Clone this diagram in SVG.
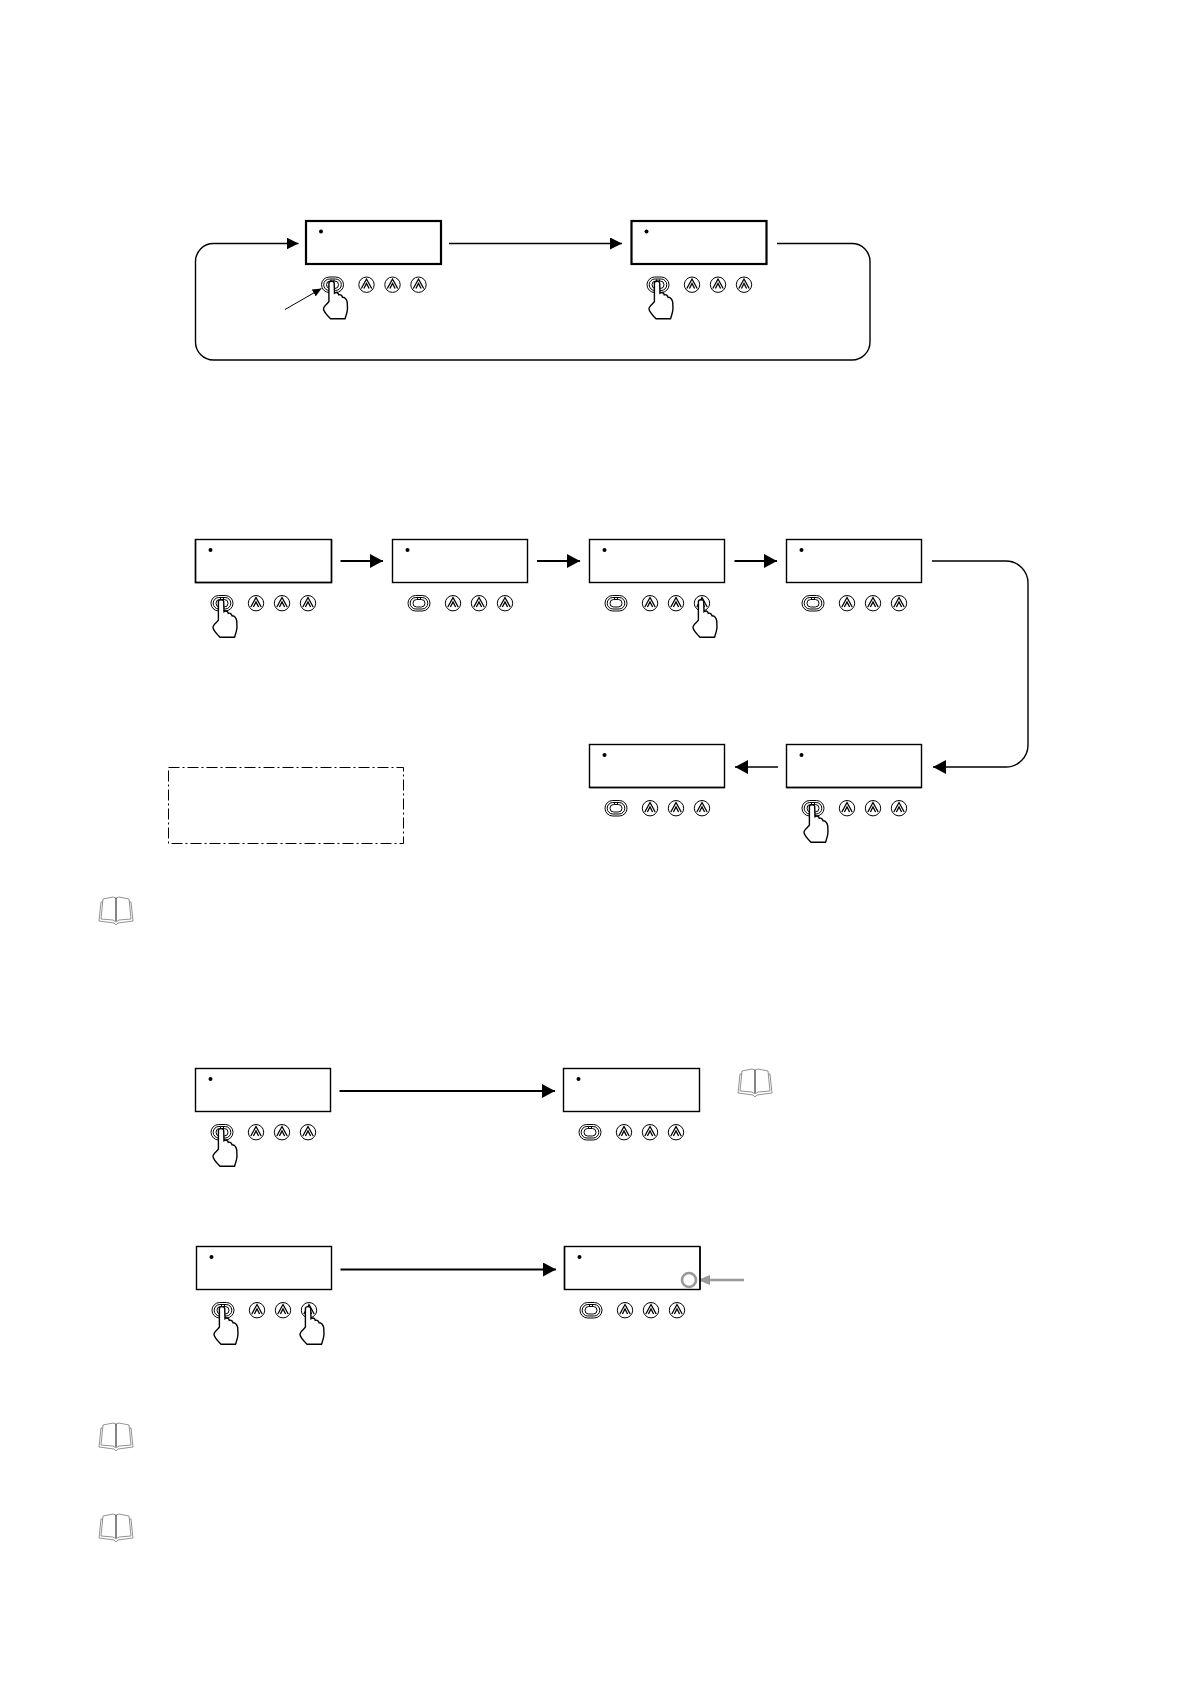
<svg xmlns="http://www.w3.org/2000/svg" width="1190" height="1684" viewBox="0 0 1190 1684">
<style>
.ln{fill:none;stroke:#000;stroke-width:1.3}
.th{fill:none;stroke:#000;stroke-width:1}
.box{fill:#fff;stroke:#000;stroke-width:1.4}
.box2{fill:#fff;stroke:#000;stroke-width:2.2}
.c2{fill:none;stroke:#000;stroke-width:1.4}
.c3{fill:none;stroke:#000;stroke-width:2}
.bk{fill:#fff;stroke:#777;stroke-width:.8}
</style>
<defs>
<marker id="ah" markerUnits="userSpaceOnUse" markerWidth="14" markerHeight="14" refX="13" refY="7" orient="auto"><path d="M0 0L13 7L0 14Z" fill="#000"/></marker>
<marker id="ah2" markerUnits="userSpaceOnUse" markerWidth="12" markerHeight="12" refX="12" refY="6" orient="auto"><path d="M0 0L12 6L0 12Z" fill="#000"/></marker>
<marker id="ahs" markerUnits="userSpaceOnUse" markerWidth="9" markerHeight="8" refX="9" refY="4" orient="auto"><path d="M0 0L9 4L0 8Z" fill="#000"/></marker>
<marker id="ahg" markerUnits="userSpaceOnUse" markerWidth="12" markerHeight="12" refX="12" refY="6" orient="auto"><path d="M0 1L12 6L0 11Z" fill="#999"/></marker>
<g id="keys">
<circle cx="15" cy="10.500" r="2" fill="#000"/>
<rect x="15.500" y="56" width="22" height="15.500" rx="7.700" class="th"/>
<rect x="17.700" y="58" width="17.600" height="11.500" rx="5.700" class="th"/>
<rect x="20.500" y="60" width="12" height="7.500" rx="3.700" class="th"/>
<path d="M25 58.500V60.500M28 58.500V60.500" class="th"/>
<circle cx="60.500" cy="63.700" r="7.700" class="th"/>
<path d="M55.300 67.500L60.500 58L65.700 67.500M57.900 67.500L60.500 62.500L63.100 67.500" class="ln"/>
<circle cx="86.500" cy="63.700" r="7.700" class="th"/>
<path d="M81.300 67.500L86.500 58L91.700 67.500M83.900 67.500L86.500 62.500L89.100 67.500" class="ln"/>
<circle cx="112.500" cy="63.700" r="7.700" class="th"/>
<path d="M107.300 67.500L112.500 58L117.700 67.500M109.900 67.500L112.500 62.500L115.100 67.500" class="ln"/>
</g>
<path id="hand" d="M-3.600-1.500C-3.600-4.200 1.700-4.200 1.700-1.500L2 8.500C4 7.200 5.800 8 6.300 10.200C8 9.500 9.500 10.500 10 12.500C12 12.500 14 14.500 14.700 17.500L15 24C14.800 28 13.500 31 12.500 34L-2 34C-5 31-9 27-9 24C-9 21.500-5 19-3.600 17Z" fill="#fff" stroke="#000" stroke-width="1.400"/>
<g id="book">
<path d="M-15 -8L-17 11L-2 13L0 15L2 13L17 11L15 -8Z" class="bk"/>
<path d="M-13 -11L-15 9L-3 10L0 12L3 10L15 9L13 -11L3 -13L0 -12L-3 -13Z" class="bk"/>
<path d="M0 -12V11" stroke="#222" stroke-width="1.100"/>
</g>
</defs>
<g id="connectors">
<path d="M449 243.500H622" class="ln" marker-end="url(#ah2)"/>
<path d="M777 243.500H852A18 18 0 0 1 870 261.500V342A18 18 0 0 1 852 360H213.500A18 18 0 0 1 195.500 342V261.500A18 18 0 0 1 213.500 243.500H298.500" class="c2" marker-end="url(#ah2)"/>
<path d="M285 309.500L321.500 288.500" class="th" marker-end="url(#ahs)"/>
<path d="M340.500 561H383" class="c3" marker-end="url(#ah)"/>
<path d="M537 561H580" class="c3" marker-end="url(#ah)"/>
<path d="M734.500 561H777" class="c3" marker-end="url(#ah)"/>
<path d="M932 561H1006A22 22 0 0 1 1028 583V745A22 22 0 0 1 1006 767H933" class="c2" marker-end="url(#ah)"/>
<path d="M778 767H735" class="c2" marker-end="url(#ah)"/>
<path d="M339.500 1091H555" class="c3" marker-end="url(#ah)"/>
<path d="M340.500 1269.500H556" class="c3" marker-end="url(#ah)"/>
<path d="M744 1280H698" fill="none" stroke="#999" stroke-width="2.500" marker-end="url(#ahg)"/>
</g>
<g id="n1" transform="translate(306 221)"><rect width="135" height="43" class="box2"/><use href="#keys"/><use href="#hand" x="26.500" y="63.700"/></g>
<g id="n2" transform="translate(631.500 221)"><rect width="135" height="43" class="box2"/><use href="#keys"/><use href="#hand" x="26.500" y="63.700"/></g>
<g id="n3" transform="translate(195.500 539.500)"><rect width="136" height="43" class="box"/><path d="M0 0V43H136V0" class="c2"/><use href="#keys"/><use href="#hand" x="26.500" y="63.700"/></g>
<g id="n4" transform="translate(392.500 539.500)"><rect width="135" height="43" class="box"/><use href="#keys"/></g>
<g id="n5" transform="translate(589.500 539.500)"><rect width="135" height="43" class="box"/><use href="#keys"/><use href="#hand" x="112.500" y="63.700"/></g>
<g id="n6" transform="translate(786.500 539.500)"><rect width="135" height="43" class="box"/><use href="#keys"/></g>
<g id="n7" transform="translate(589.500 744.500)"><rect width="135" height="43" class="box"/><path d="M0 43H135" class="c2"/><use href="#keys"/></g>
<g id="n8" transform="translate(786.500 744.500)"><rect width="135" height="43" class="box"/><path d="M0 43H135" class="c2"/><use href="#keys"/><use href="#hand" x="26.500" y="63.700"/></g>
<g id="n9" transform="translate(168.500 767.500)"><rect width="235" height="76" fill="none" stroke="#000" stroke-width="1" stroke-dasharray="11 3 2 3"/></g>
<g id="n10" transform="translate(195.500 1068.500)"><rect width="135" height="43" class="box"/><use href="#keys"/><use href="#hand" x="26.500" y="63.700"/></g>
<g id="n11" transform="translate(563.500 1068.500)"><rect width="136" height="43" class="box"/><use href="#keys"/></g>
<g id="n12" transform="translate(196.500 1246.500)"><rect width="135" height="43" class="box"/><use href="#keys"/><use href="#hand" x="26.500" y="63.700"/><use href="#hand" x="112.500" y="63.700"/></g>
<g id="n13" transform="translate(564.500 1246.500)"><rect width="135.500" height="43" class="box"/><path d="M0 0V43M135.500 0V43" class="c2"/><use href="#keys"/><circle cx="124.500" cy="33.500" r="7" fill="none" stroke="#999" stroke-width="2.600"/></g>
<g id="b1"><use href="#book" x="116" y="910"/></g>
<g id="b2"><use href="#book" x="755" y="1082"/></g>
<g id="b3"><use href="#book" x="116" y="1436"/></g>
<g id="b4"><use href="#book" x="116" y="1527"/></g>
</svg>
